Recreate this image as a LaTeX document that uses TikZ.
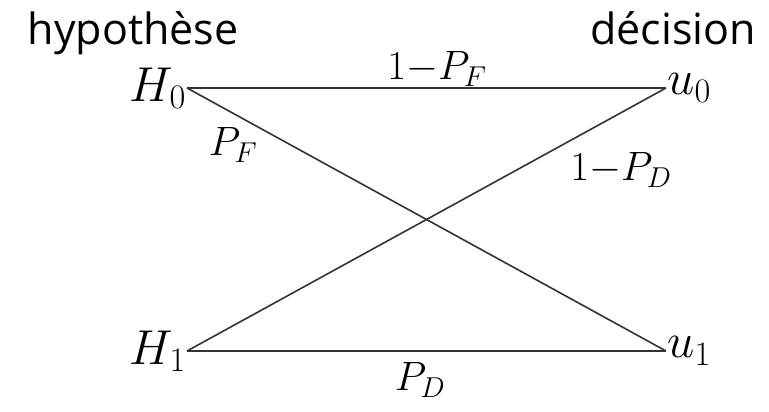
\RequirePackage{fix-cm}
\documentclass[tikz,border=0pt]{standalone}
\usepackage{fontspec}
\newfontfamily\headfont{Open Sans}
\usetikzlibrary{positioning}
\tikzset{
  headnode/.style={font=\headfont\fontsize{43}{52}\selectfont, inner sep=0pt},
  symnode/.style={font=\fontsize{49}{58}\selectfont, inner sep=1pt},
  probnode/.style={font=\fontsize{41}{50}\selectfont, inner sep=0pt},
  linkedge/.style={draw=black!80, line width=1.6pt},
}

\begin{document}
\begin{tikzpicture}[x=1pt, y=-1pt]
  \useasboundingbox (0,0) rectangle (769,412);
  \node[headnode, anchor=base] (hyp) at (133,45) {hypothèse};
  \node[headnode, anchor=base] (dec) at (673,45) {décision};
  \node[symnode, anchor=east] (h0) at (187,88) {$H_0$};
  \node[symnode, anchor=west] (u0) at (666,88) {$u_0$};
  \node[symnode, anchor=east] (h1) at (187,351) {$H_1$};
  \node[symnode, anchor=west] (u1) at (666,351) {$u_1$};
  \draw[linkedge] (h0.east) -- (u0.west);
  \draw[linkedge] (h0.east) -- (u1.west);
  \draw[linkedge] (h1.east) -- (u0.west);
  \draw[linkedge] (h1.east) -- (u1.west);
  \node[probnode] (pf1) at (437,69) {$1{-}P_F$};
  \node[probnode] (pf) at (233,145) {$P_F$};
  \node[probnode] (pd1) at (621,170) {$1{-}P_D$};
  \node[probnode] (pd) at (420,380) {$P_D$};
\end{tikzpicture}
\end{document}
